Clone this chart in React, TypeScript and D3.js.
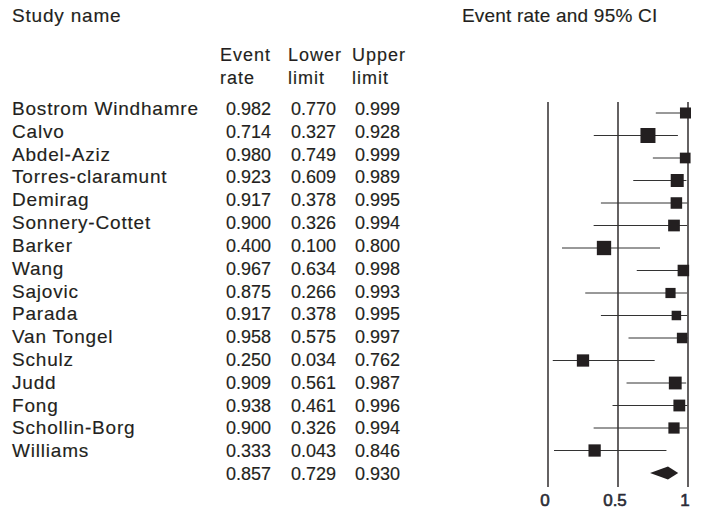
import React, { useEffect, useRef } from 'react';
import * as d3 from 'd3';

const studies = [
  'Bostrom Windhamre', 'Calvo', 'Abdel-Aziz', 'Torres-claramunt', 'Demirag',
  'Sonnery-Cottet', 'Barker', 'Wang', 'Sajovic', 'Parada', 'Van Tongel',
  'Schulz', 'Judd', 'Fong', 'Schollin-Borg', 'Williams'
];
const eventRate = [0.982, 0.714, 0.980, 0.923, 0.917, 0.900, 0.400, 0.967, 0.875, 0.917, 0.958, 0.250, 0.909, 0.938, 0.900, 0.333];
const lowerLimit = [0.770, 0.327, 0.749, 0.609, 0.378, 0.326, 0.100, 0.634, 0.266, 0.378, 0.575, 0.034, 0.561, 0.461, 0.326, 0.043];
const upperLimit = [0.999, 0.928, 0.999, 0.989, 0.995, 0.994, 0.800, 0.998, 0.993, 0.995, 0.997, 0.762, 0.987, 0.996, 0.994, 0.846];
// relative weights
const weights = [54, 100, 51, 75, 59, 61, 91, 59, 46, 40, 49, 67, 73, 62, 56, 67];
const summary = { rate: 0.857, lower: 0.729, upper: 0.930 };
const xTicks = [0, 0.5, 1];
const xTickLabels = ['0', '0.5', '1'];

const W = 716;
const H = 512;

const App = () => {
  const svgRef = useRef<SVGSVGElement | null>(null);

  useEffect(() => {
    if (!svgRef.current) return;
    const svg = d3.select(svgRef.current);
    svg.selectAll('*').remove();

    const ink = '#231f20';
    const font = '"Liberation Sans", Arial, sans-serif';
    const nRows = studies.length;

    // rows: text baselines and marker centres
    const yText = d3.scaleLinear().domain([0, nRows]).range([115, 480]);
    const yPlot = d3.scaleLinear().domain([0, nRows]).range([113, 473]);
    const x = d3.scaleLinear().domain([0, 1]).range([548, 688]);
    const size = d3.scaleSqrt().domain([0, d3.max(weights) as number]).range([0, 15]);

    const g = svg.append('g').attr('font-family', font).attr('fill', ink);

    const addText = (tx: number, ty: number, s: string, fs = 19, spacing = 0.8) =>
      g.append('text')
        .attr('x', tx)
        .attr('y', ty)
        .attr('font-size', fs)
        .attr('letter-spacing', spacing)
        .attr('stroke', ink)
        .attr('stroke-width', 0.15)
        .text(s);

    // headers
    addText(12, 22, 'Study name');
    addText(462, 22, 'Event rate and 95% CI', 19, 0.2);
    addText(220, 61, 'Event', 18, 1);
    addText(220, 84, 'rate', 18, 1);
    addText(288, 61, 'Lower', 18, 1);
    addText(288, 84, 'limit', 18, 1);
    addText(352, 61, 'Upper', 18, 1);
    addText(352, 84, 'limit', 18, 1);

    // table rows
    const fmt = d3.format('.3f');
    studies.forEach((name, i) => {
      addText(12, yText(i), name);
      addText(226, yText(i), fmt(eventRate[i]), 18, 0);
      addText(291, yText(i), fmt(lowerLimit[i]), 18, 0);
      addText(355, yText(i), fmt(upperLimit[i]), 18, 0);
    });
    addText(226, yText(nRows), fmt(summary.rate), 18, 0);
    addText(291, yText(nRows), fmt(summary.lower), 18, 0);
    addText(355, yText(nRows), fmt(summary.upper), 18, 0);

    // vertical reference lines
    g.append('g')
      .selectAll('line')
      .data(xTicks)
      .enter()
      .append('line')
      .attr('x1', d => x(d))
      .attr('x2', d => x(d))
      .attr('y1', 102)
      .attr('y2', 487)
      .attr('stroke', ink)
      .attr('stroke-width', 1.4);

    // confidence intervals
    g.append('g')
      .selectAll('line')
      .data(studies)
      .enter()
      .append('line')
      .attr('x1', (_, i) => x(lowerLimit[i]))
      .attr('x2', (_, i) => x(upperLimit[i]))
      .attr('y1', (_, i) => yPlot(i))
      .attr('y2', (_, i) => yPlot(i))
      .attr('stroke', '#333')
      .attr('stroke-width', 1);

    // point estimates
    g.append('g')
      .selectAll('rect')
      .data(studies)
      .enter()
      .append('rect')
      .attr('x', (_, i) => x(eventRate[i]) - size(weights[i]) / 2)
      .attr('y', (_, i) => yPlot(i) - size(weights[i]) / 2)
      .attr('width', (_, i) => size(weights[i]))
      .attr('height', (_, i) => size(weights[i]))
      .attr('fill', ink);

    // summary diamond
    const ys = yPlot(nRows);
    const diamond = [
      [x(summary.lower), ys],
      [x(summary.rate), ys - 6.5],
      [x(summary.upper), ys],
      [x(summary.rate), ys + 6.5]
    ] as [number, number][];
    g.append('path')
      .attr('d', d3.line()(diamond) + 'Z')
      .attr('fill', ink);

    // axis labels
    g.append('g')
      .selectAll('text')
      .data(xTicks)
      .enter()
      .append('text')
      .attr('x', d => x(d))
      .attr('dx', -3)
      .attr('y', 506)
      .attr('text-anchor', 'middle')
      .attr('font-size', 17)
      .attr('stroke', '#2b2b35')
      .attr('stroke-width', 0.6)
      .attr('fill', '#2b2b35')
      .text((_, i) => xTickLabels[i]);
  }, []);

  return (
    <svg
      ref={svgRef}
      width={W}
      height={H}
      style={{ position: 'fixed', left: 0, top: 0, background: '#fff' }}
    />
  );
};

export default App;
